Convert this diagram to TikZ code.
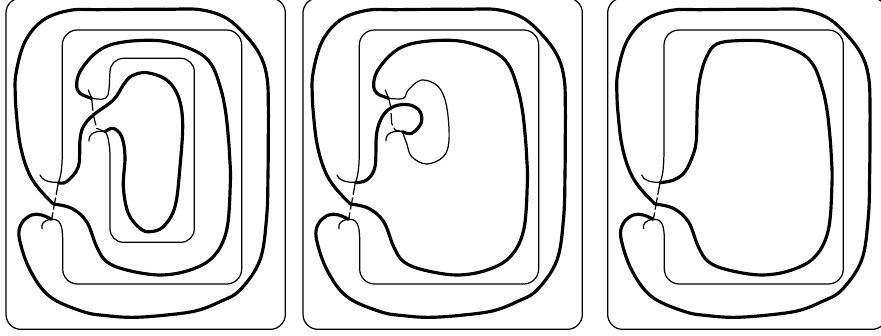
\documentclass[tikz,border=0pt]{standalone}
\tikzset{
  panel/.style={draw=black, line width=0.7pt, rounded corners=0.3cm},
  strand/.style={draw=black, line width=1.8pt, line cap=round, line join=round},
  fine/.style={draw=black, line width=0.7pt, line cap=round},
  bridge/.style={draw=black, line width=0.7pt, dash pattern=on 7pt off 1.6pt},
}
% the part that is the same in all three panels
\newcommand{\outerloop}{
  \draw[panel] (18,-6) rectangle (856,988);
  \draw[strand] plot[smooth, tension=0.6] coordinates {(160,612) (120,570) (92,530) (72,480) (58,420) (50,350) (46,290) (48,220) (75,125)
    (130,60) (210,31) (300,29) (400,28) (500,28) (600,29) (680,55) (745,115) (785,175) (802,240) (805,320) (805,400) (804,520) (800,650)
    (780,780) (720,870) (660,905) (590,932) (500,945) (400,952) (320,947) (250,935) (150,890) (90,810) (58,715) (65,670) (95,645) (125,645) (155,658)};
  \draw[fine] (155,658) .. controls (132,660) and (122,672) .. (126,686);
  \draw[fine] (120,525) .. controls (125,540) and (145,548) .. (175,547);
  \draw[fine] (155,658) .. controls (180,656) and (188,675) .. (188,720) [rounded corners=0.3cm]
    -- (188,852) -- (725,852) -- (725,90) -- (187,90) [sharp corners] -- (187,420)
    .. controls (187,480) and (187,520) .. (175,548);
  \draw[bridge] (175,548) -- (155,658);
}
% #1 is the rest of the band after its top edge
\newcommand{\bandto}[1]{
  \draw[strand] plot[smooth, tension=0.6] coordinates {(160,612) (215,625) (260,665) (290,740) (320,785)
    (380,810) (480,825) (570,810) (640,770) (680,690) (691,550) (689,470) (684,400) (676,330) (662,265) (635,195) (590,155)
    (500,125) (410,122) #1};
}

\begin{document}
\begin{tikzpicture}[x=0.00667cm, y=-0.00667cm]
  \clip (0,0) rectangle (2643,1005);

  % ---------------------------------------------------------------- left panel
  \begin{scope}
    \outerloop
    \bandto{(330,135) (280,165) (240,215) (230,255) (240,280) (275,295)}
    \draw[fine] (275,295) -- (265,270);
    \draw[fine] (275,295) .. controls (300,298) and (318,302) .. (324,285) .. controls (330,260) and (328,230) .. (330,215)
      [rounded corners=0.27cm] -- (330,175) -- (583,175) -- (583,727) -- (330,727) [sharp corners] -- (330,470)
      .. controls (330,440) and (325,405) .. (315,395);
    \draw[fine] (315,395) .. controls (290,390) and (265,400) .. (267,423);
    \draw[strand] plot[smooth, tension=0.6] coordinates {(315,395) (340,385) (365,410) (375,470) (370,560) (385,640)
      (420,685) (450,695) (490,680) (525,620) (540,500) (548,370) (535,290) (500,240) (440,218) (395,228)
      (370,255) (340,300) (280,345) (250,380) (240,420) (235,500) (200,545) (175,548)};
    \draw[bridge] (275,295) -- (280,345) -- (290,385) -- (315,395);
  \end{scope}

  % ---------------------------------------------------------------- middle panel
  \begin{scope}[shift={(891,0)}]
    \outerloop
    \bandto{(330,135) (280,165) (240,215) (230,255) (240,280) (275,295)}
    \draw[fine] (275,295) -- (265,270);
    \draw[fine] plot[smooth, tension=0.6] coordinates {(275,295) (319,295) (334,270) (374,240) (424,260) (449,320)
      (456,420) (439,470) (389,492) (344,470) (329,430) (316,395)};
    \draw[fine] (316,395) .. controls (290,390) and (265,400) .. (267,422);
    \draw[strand] plot[smooth, tension=0.6] coordinates {(316,395) (344,400) (372,370) (369,335) (339,315) (294,318)
      (259,345) (239,400) (234,500) (209,540) (175,548)};
    \draw[bridge] (275,295) -- (281,320) -- (284,370) -- (294,390) -- (316,395);
  \end{scope}

  % ---------------------------------------------------------------- right panel
  \begin{scope}[shift={(1805,0)}]
    \outerloop
    \bandto{(345,132) (315,170) (297,225) (289,280) (286,340) (284,420) (274,465) (250,515) (216,540) (175,548)}
  \end{scope}

\end{tikzpicture}
\end{document}
